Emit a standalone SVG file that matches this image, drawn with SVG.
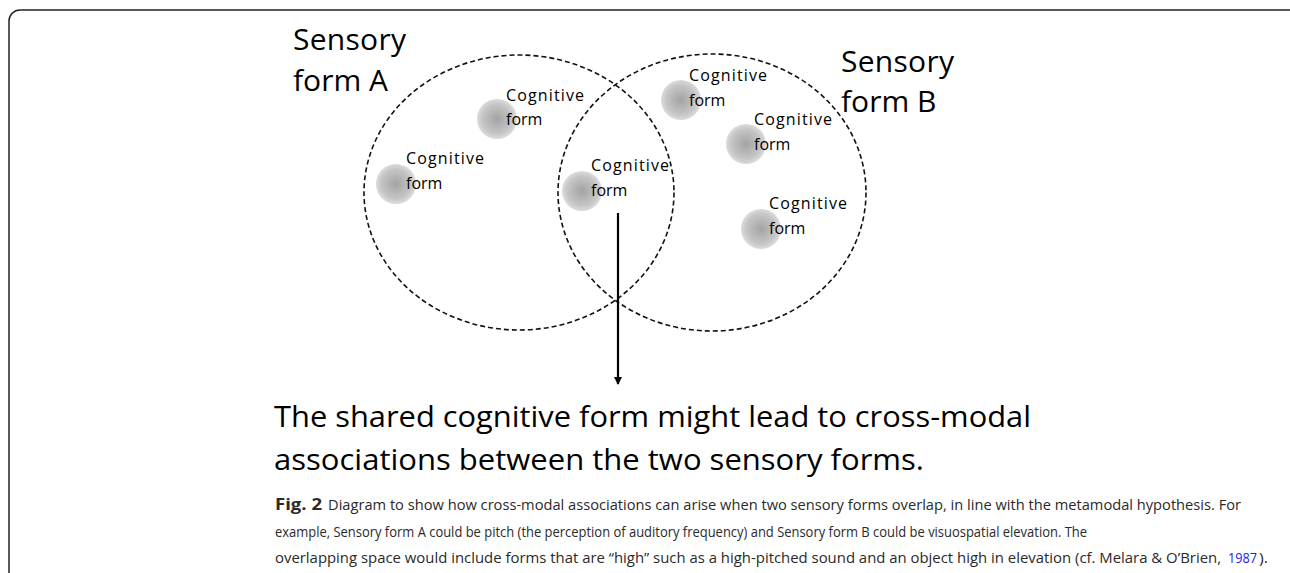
<svg xmlns="http://www.w3.org/2000/svg" width="1290" height="573" viewBox="0 0 1290 573">
<style>
.frame{fill:none;stroke:#222;stroke-width:1.5}
.set{fill:none;stroke:#111;stroke-width:1.6;stroke-dasharray:5 3}
.blob{fill:url(#g)}
.lab{font-family:"Open Sans","Noto Sans",sans-serif;font-size:16px;fill:#000}
.big{font-family:"Open Sans","Noto Sans",sans-serif;font-size:30px;fill:#000}
.main{font-family:"Open Sans","Noto Sans",sans-serif;font-size:30px;fill:#000}
.cap{font-family:"Open Sans","Noto Sans",sans-serif;font-size:14.5px;fill:#2a2a2a}
.capb{font-family:"Open Sans","Noto Sans",sans-serif;font-size:16px;font-weight:bold;fill:#2a2a2a}
.link{font-family:"Open Sans","Noto Sans",sans-serif;font-size:14.5px;fill:#2222ee}
.conn{stroke:#000;stroke-width:2.2;fill:none}
</style>
<defs>
<radialGradient id="g" cx="0.5" cy="0.5" r="0.5">
<stop offset="0" stop-color="#a3a3a3"/>
<stop offset="0.75" stop-color="#c6c6c6"/>
<stop offset="1" stop-color="#dcdcdc"/>
</radialGradient>
<marker id="ah" markerWidth="8" markerHeight="8" refX="7" refY="4" orient="auto" markerUnits="userSpaceOnUse" viewBox="0 0 8 8">
<path d="M0,0 L8,4 L0,8 Z" fill="#000"/>
</marker>
</defs>
<rect class="frame" x="9" y="10" width="1300" height="600" rx="11"/>
<g id="setA">
<ellipse class="set" cx="519" cy="192.5" rx="155" ry="137.5"/>
<text class="big" x="293" y="50" textLength="113">Sensory</text>
<text class="big" x="293" y="91">form A</text>
</g>
<g id="setB">
<ellipse class="set" cx="712" cy="192.5" rx="154" ry="138.5"/>
<text class="big" x="841" y="72" textLength="113">Sensory</text>
<text class="big" x="841" y="112">form B</text>
</g>
<g id="form1"><circle class="blob" cx="497" cy="119" r="20"/><text class="lab" x="506" y="101" textLength="78">Cognitive</text><text class="lab" x="506" y="125">form</text></g>
<g id="form2"><circle class="blob" cx="396" cy="184" r="20"/><text class="lab" x="406" y="164" textLength="78">Cognitive</text><text class="lab" x="406" y="189">form</text></g>
<g id="form3"><circle class="blob" cx="582" cy="191" r="20"/><text class="lab" x="591" y="171" textLength="78">Cognitive</text><text class="lab" x="591" y="196">form</text></g>
<g id="form4"><circle class="blob" cx="681" cy="100" r="20"/><text class="lab" x="689" y="81" textLength="78">Cognitive</text><text class="lab" x="689" y="106">form</text></g>
<g id="form5"><circle class="blob" cx="746" cy="144" r="20"/><text class="lab" x="754" y="125" textLength="78">Cognitive</text><text class="lab" x="754" y="150">form</text></g>
<g id="form6"><circle class="blob" cx="761" cy="229" r="20"/><text class="lab" x="769" y="209" textLength="78">Cognitive</text><text class="lab" x="769" y="234">form</text></g>
<g id="connectors">
<line class="conn" x1="618" y1="213" x2="618" y2="384" marker-end="url(#ah)"/>
</g>
<g id="conclusion">
<text class="main" x="274" y="427" textLength="757" lengthAdjust="spacingAndGlyphs">The shared cognitive form might lead to cross-modal</text>
<text class="main" x="274" y="470" textLength="650" lengthAdjust="spacingAndGlyphs">associations between the two sensory forms.</text>
</g>
<g id="caption">
<text class="capb" x="275" y="510" textLength="47" lengthAdjust="spacingAndGlyphs">Fig. 2</text>
<text class="cap" x="328" y="510" textLength="913" lengthAdjust="spacingAndGlyphs">Diagram to show how cross-modal associations can arise when two sensory forms overlap, in line with the metamodal hypothesis. For</text>
<text class="cap" x="275" y="537" textLength="812" lengthAdjust="spacingAndGlyphs">example, Sensory form A could be pitch (the perception of auditory frequency) and Sensory form B could be visuospatial elevation. The</text>
<text class="cap" x="275" y="563" textLength="946" lengthAdjust="spacingAndGlyphs">overlapping space would include forms that are “high” such as a high-pitched sound and an object high in elevation (cf. Melara &amp; O’Brien,</text>
<text class="link" x="1228" y="563" textLength="29" lengthAdjust="spacingAndGlyphs">1987</text>
<text class="cap" x="1259" y="563" textLength="9" lengthAdjust="spacingAndGlyphs">).</text>
</g>
</svg>
